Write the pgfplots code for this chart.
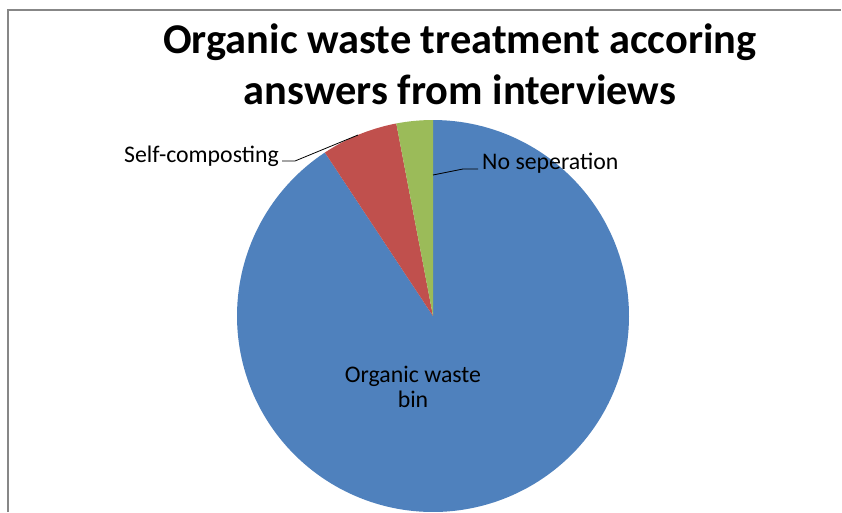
\documentclass[border=0pt]{standalone}
\usepackage{pgfplots}
\pgfplotsset{compat=1.18}
\usepackage{pgfplotstable}
\usepackage{fontspec}
\setmainfont{Carlito}
\definecolor{sblue}{HTML}{4F81BD}
\definecolor{sred}{HTML}{C0504D}
\definecolor{sgreen}{HTML}{9BBB59}
\definecolor{frame}{HTML}{878787}
\pgfplotstableread{
label value
{Organic waste bin} 90.7
Self-composting 6.3
{No seperation} 3.0
}\piedata
\pgfplotstablegetelem{0}{value}\of\piedata \let\vA\pgfplotsretval
\pgfplotstablegetelem{1}{value}\of\piedata \let\vB\pgfplotsretval
\pgfplotstablegetelem{2}{value}\of\piedata \let\vC\pgfplotsretval
\pgfmathsetmacro\aZero{90}
\pgfmathsetmacro\aOne{90-3.6*\vA}
\pgfmathsetmacro\aTwo{\aOne-3.6*\vB}
\pgfmathsetmacro\aThree{\aTwo-3.6*\vC}
\def\cx{433}
\def\cy{316}
\def\rr{196}
\begin{document}
\begin{tikzpicture}
\fill[white] (0,0) rectangle (842pt,512pt);
\begin{axis}[
  at={(0,0)}, anchor=south west,
  scale only axis, width=842pt, height=512pt,
  xmin=0, xmax=842, ymin=0, ymax=512, y dir=reverse,
  hide axis, clip=true,
]
\addplot[fill=sblue, draw=none, domain=\aOne:\aZero, samples=200, variable=\t]
  ({\cx+\rr*cos(t)},{\cy-\rr*sin(t)}) -- (axis cs:\cx,\cy) -- cycle;
\addplot[fill=sred, draw=none, domain=\aTwo:\aOne, samples=20, variable=\t]
  ({\cx+\rr*cos(t)},{\cy-\rr*sin(t)}) -- (axis cs:\cx,\cy) -- cycle;
\addplot[fill=sgreen, draw=none, domain=\aThree:\aTwo, samples=10, variable=\t]
  ({\cx+\rr*cos(t)},{\cy-\rr*sin(t)}) -- (axis cs:\cx,\cy) -- cycle;
% frame
\draw[frame, line width=2pt] (axis cs:8,512) -- (axis cs:8,10) -- (axis cs:841,10);
% title
\node[font=\fontsize{42.4}{51}\selectfont\bfseries, anchor=base] at (axis cs:460,53) {Organic waste treatment accoring};
\node[font=\fontsize{42.4}{51}\selectfont\bfseries, anchor=base] at (axis cs:460,104) {answers from interviews};
% leader lines
\draw[black, line width=0.8pt] (axis cs:282,161) -- (axis cs:295,161) -- (axis cs:358,135);
\draw[black, line width=0.8pt] (axis cs:433,175) -- (axis cs:463,169) -- (axis cs:478,169);
% labels
\node[font=\fontsize{23.8}{28}\selectfont, anchor=base east, inner sep=1pt] at (axis cs:280,162) {Self-composting};
\node[font=\fontsize{23.8}{28}\selectfont, anchor=base west, inner sep=1pt] at (axis cs:481,169) {No seperation};
\node[font=\fontsize{23.8}{28}\selectfont, anchor=base] at (axis cs:413,382) {Organic waste};
\node[font=\fontsize{23.8}{28}\selectfont, anchor=base] at (axis cs:413,407) {bin};
\end{axis}
\pgfresetboundingbox
\useasboundingbox (0,0) rectangle (842pt,512pt);
\end{tikzpicture}
\end{document}
